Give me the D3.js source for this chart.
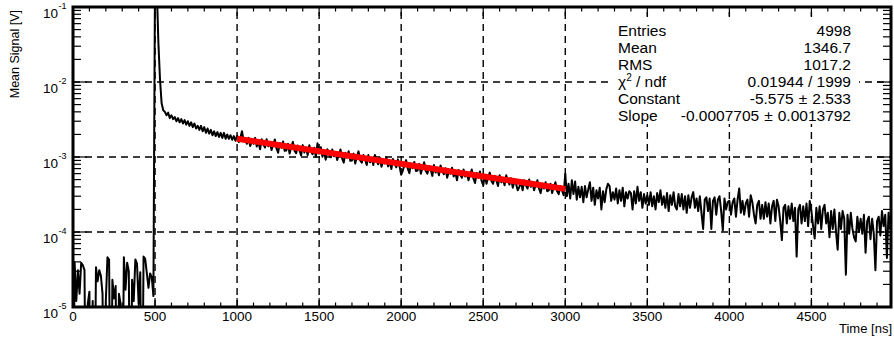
<!DOCTYPE html>
<html><head><meta charset="utf-8">
<script src="https://cdn.jsdelivr.net/npm/d3@7"></script>
<style>
html,body{margin:0;padding:0;background:#fff;}
svg{display:block;font-family:"Liberation Sans",Arial,Helvetica,sans-serif;}
</style>
</head><body>
<svg id="chart" width="894" height="340"></svg>
<script>
// ---------------- data ----------------
const timeStep = 10; // ns between points
const signal0to1000 = [
0,3.9e-5,1.2e-5,3.1e-5,1.5e-5,3.9e-5,3.6e-5,3.1e-5,0,1.1e-5,
1.6e-5,0,1.2e-5,0,3.4e-5,2.2e-5,3.1e-5,2.6e-5,1.5e-5,0,
1.2e-5,4.6e-5,4.3e-5,0,2.3e-5,1.3e-5,1.9e-5,0,1.5e-5,1.1e-5,
0,4.6e-5,1.7e-5,3.9e-5,3.0e-5,0,2.3e-5,1.2e-5,4.3e-5,3.8e-5,
1.1e-5,2.9e-5,0,4.7e-5,4.4e-5,2.8e-5,1.8e-5,2.8e-5,2.5e-5,1.4e-5,
0.3,0.2,0.035,0.011,5.2e-3,4.2e-3,4.0e-3,3.6e-3,3.9e-3,3.3e-3,
3.6e-3,3.2e-3,3.4e-3,3.0e-3,3.3e-3,2.9e-3,3.2e-3,2.8e-3,3.1e-3,2.7e-3,
3.0e-3,2.6e-3,2.9e-3,2.5e-3,2.8e-3,2.4e-3,2.6e-3,2.3e-3,2.6e-3,2.2e-3,
2.5e-3,2.1e-3,2.4e-3,2.05e-3,2.3e-3,1.95e-3,2.2e-3,1.9e-3,2.15e-3,1.85e-3,
2.1e-3,1.8e-3,2.1e-3,1.75e-3,2.0e-3,1.75e-3,1.95e-3,1.7e-3,1.9e-3,1.65e-3
];
const signal1000to2000 = [
1.92e-3,1.58e-3,1.80e-3,2.20e-3,1.62e-3,1.66e-3,1.50e-3,1.80e-3,1.40e-3,1.62e-3,
1.50e-3,1.80e-3,1.38e-3,1.62e-3,1.27e-3,1.72e-3,1.48e-3,1.34e-3,1.72e-3,1.39e-3,
1.58e-3,1.24e-3,1.47e-3,1.71e-3,1.30e-3,1.14e-3,1.54e-3,1.33e-3,1.61e-3,1.21e-3,
1.22e-3,1.50e-3,1.11e-3,1.36e-3,1.59e-3,1.21e-3,1.12e-3,1.42e-3,1.24e-3,1.05e-3,
1.44e-3,1.15e-3,1.32e-3,1.06e-3,1.43e-3,1.20e-3,1.09e-3,1.33e-3,1.00e-3,1.52e-3,
1.11e-3,1.35e-3,1.01e-3,1.19e-3,9.2e-4,1.27e-3,1.09e-3,9.9e-4,1.26e-3,1.02e-3,
1.16e-3,9.1e-4,1.08e-3,1.26e-3,9.6e-4,8.4e-4,1.14e-3,9.8e-4,1.19e-3,8.9e-4,
9.0e-4,1.11e-3,8.2e-4,1.01e-3,1.19e-3,9.0e-4,8.4e-4,1.06e-3,9.3e-4,7.8e-4,
1.06e-3,8.5e-4,9.8e-4,7.8e-4,1.06e-3,8.9e-4,8.0e-4,9.8e-4,7.4e-4,8.8e-4,
8.2e-4,9.9e-4,7.5e-4,8.9e-4,6.9e-4,9.4e-4,8.1e-4,7.3e-4,9.3e-4,7.5e-4
];
const signal2000to3000 = [
5.8e-4,6.6e-4,7.9e-4,9.1e-4,7.0e-4,6.1e-4,8.2e-4,7.1e-4,8.6e-4,6.5e-4,
6.6e-4,8.1e-4,6.0e-4,7.3e-4,8.5e-4,6.5e-4,6.0e-4,7.6e-4,6.7e-4,5.6e-4,
7.8e-4,6.2e-4,7.2e-4,5.7e-4,7.7e-4,6.5e-4,5.9e-4,7.1e-4,5.3e-4,6.4e-4,
6.0e-4,7.2e-4,5.5e-4,6.3e-4,4.9e-4,6.7e-4,5.8e-4,5.3e-4,6.8e-4,5.5e-4,
6.2e-4,4.9e-4,5.8e-4,6.8e-4,5.2e-4,4.5e-4,6.1e-4,5.3e-4,6.4e-4,4.8e-4,
4.2e-4,5.8e-4,4.4e-4,5.4e-4,6.2e-4,4.8e-4,4.4e-4,5.6e-4,4.9e-4,4.1e-4,
5.7e-4,4.6e-4,5.2e-4,4.2e-4,5.7e-4,4.8e-4,4.3e-4,5.2e-4,3.9e-4,4.7e-4,
4.4e-4,3.6e-4,4.0e-4,4.7e-4,3.6e-4,4.9e-4,4.2e-4,3.8e-4,5.0e-4,4.0e-4,
4.6e-4,3.6e-4,4.3e-4,4.9e-4,3.8e-4,3.3e-4,4.4e-4,3.8e-4,4.6e-4,3.5e-4,
3.6e-4,4.4e-4,3.3e-4,4.0e-4,4.6e-4,3.5e-4,3.2e-4,4.1e-4,3.6e-4,3.1e-4
];
const signal3000to5000 = [
6.0e-4,3.0e-4,4.4e-4,2.8e-4,4.9e-4,3.2e-4,4.7e-4,2.7e-4,4.0e-4,2.9e-4,
4.0e-4,2.5e-4,4.1e-4,2.9e-4,3.7e-4,4.6e-4,2.6e-4,3.9e-4,2.3e-4,3.6e-4,
2.8e-4,3.9e-4,2.0e-4,3.5e-4,2.5e-4,3.7e-4,4.4e-4,4.1e-4,2.6e-4,3.4e-4,
2.7e-4,3.8e-4,2.4e-4,3.6e-4,2.6e-4,3.9e-4,2.2e-4,3.4e-4,2.8e-4,3.5e-4,
3.3e-4,2.0e-4,3.5e-4,2.4e-4,4.0e-4,2.6e-4,3.4e-4,2.1e-4,3.2e-4,2.4e-4,
3.1e-4,2.3e-4,3.4e-4,2.2e-4,3.0e-4,2.0e-4,3.3e-4,2.5e-4,3.6e-4,2.3e-4,
3.0e-4,2.1e-4,3.3e-4,1.9e-4,3.1e-4,2.3e-4,3.4e-4,2.2e-4,2.0e-4,3.2e-4,
2.2e-4,3.2e-4,2.0e-4,3.0e-4,1.8e-4,3.1e-4,2.1e-4,2.9e-4,3.4e-4,2.1e-4,
2.8e-4,1.9e-4,3.0e-4,1.8e-4,1.1e-4,2.7e-4,2.9e-4,1.9e-4,2.8e-4,1.1e-4,
2.6e-4,2.9e-4,1.7e-4,2.7e-4,3.0e-4,1.9e-4,1.05e-4,2.8e-4,2.0e-4,2.5e-4,
2.6e-4,1.7e-4,2.5e-4,2.8e-4,1.6e-4,2.7e-4,3.8e-4,1.8e-4,2.6e-4,1.7e-4,
2.4e-4,2.7e-4,1.6e-4,3.1e-4,2.5e-4,1.7e-4,1.3e-4,2.3e-4,2.6e-4,1.5e-4,
2.3e-4,1.5e-4,2.5e-4,1.6e-4,2.4e-4,1.3e-4,2.2e-4,2.6e-4,1.4e-4,2.7e-4,
2.2e-4,1.4e-4,7.8e-5,2.1e-4,2.3e-4,1.3e-4,2.2e-4,1.5e-4,2.4e-4,1.4e-4,
2.1e-4,4.7e-5,2.0e-4,2.3e-4,1.3e-4,2.2e-4,1.4e-4,2.4e-4,1.2e-4,2.6e-4,
1.9e-4,1.2e-4,8.2e-5,2.1e-4,1.3e-4,2.2e-4,1.1e-4,2.0e-4,2.3e-4,1.3e-4,
1.8e-4,8.5e-5,1.9e-4,1.1e-4,2.0e-4,1.0e-4,5.8e-5,1.8e-4,1.1e-4,1.9e-4,
1.5e-4,2.7e-5,1.7e-4,9.5e-5,1.8e-4,1.1e-4,8.5e-5,7.5e-5,1.6e-4,1.0e-4,
1.5e-4,9.5e-5,1.7e-4,5.3e-5,1.4e-4,1.6e-4,8.0e-5,1.5e-4,9.5e-5,3.1e-5,
1.4e-4,1.6e-4,9.0e-5,1.9e-4,1.2e-4,1.7e-4,4.5e-5,1.8e-4,1.1e-4,1.5e-4
];
const xTickValues = [0, 500, 1000, 1500, 2000, 2500, 3000, 3500, 4000, 4500];
const xTickLabels = ["0", "500", "1000", "1500", "2000", "2500", "3000", "3500", "4000", "4500"];
const yTickExponents = [-5, -4, -3, -2, -1];
const statLabels = ["Entries", "Mean", "RMS", "χ2 / ndf", "Constant", "Slope"];
const statValues = ["4998", "1346.7", "1017.2", "0.01944 / 1999", "-5.575 ± 2.533", "-0.0007705 ± 0.0013792"];
const fitConstant = -5.575;
const fitSlope = -0.0007705;
const fitRange = [1000, 3000];
const xTitle = "Time [ns]";
const yTitle = "Mean Signal [V]";

// ---------------- layout ----------------
const W = 894, H = 340;
const L = 73, R = 891, T = 7, B = 307;
const svg = d3.select("#chart");
svg.append("rect").attr("width", W).attr("height", H).attr("fill", "#fff");

const x = d3.scaleLinear().domain([0, 4985]).range([L, R]);
const y = d3.scaleLog().domain([1e-5, 1e-1]).range([B, T]);

const series = [].concat(signal0to1000, signal1000to2000, signal2000to3000, signal3000to5000)
  .map((v, i) => ({t: i * timeStep, v: v}));

svg.append("clipPath").attr("id", "frameClip")
  .append("rect").attr("x", L).attr("y", T).attr("width", R - L).attr("height", B - T);

// grid
const grid = svg.append("g").attr("stroke", "#000").attr("stroke-width", 1.4)
  .attr("stroke-dasharray", "7,5").attr("fill", "none");
xTickValues.filter(v => v > 0).forEach(v => {
  grid.append("line").attr("x1", x(v)).attr("x2", x(v)).attr("y1", B).attr("y2", T);
});
yTickExponents.filter(e => e > -5 && e < -1).forEach(e => {
  grid.append("line").attr("x1", L).attr("x2", R).attr("y1", y(Math.pow(10, e))).attr("y2", y(Math.pow(10, e)));
});

// histogram line
const line = d3.line().x(d => x(d.t)).y(d => y(Math.max(d.v, 1e-7)));
svg.append("path").datum(series).attr("clip-path", "url(#frameClip)")
  .attr("d", line).attr("fill", "none").attr("stroke", "#000")
  .attr("stroke-width", 2).attr("stroke-linejoin", "round");

// fit line
const fitPts = fitRange.map(t => ({t: t, v: Math.exp(fitConstant + fitSlope * t)}));
svg.append("path").datum(fitPts).attr("d", line).attr("fill", "none")
  .attr("stroke", "#ff0000").attr("stroke-width", 6);

// stats box (white, borderless)
svg.append("rect").attr("x", 609).attr("y", 17).attr("width", 250).attr("height", 107).attr("fill", "#fff");
const stats = svg.append("g").attr("font-size", 15.5).attr("fill", "#000");
statLabels.forEach((lab, i) => {
  const yy = 36 + i * 17;
  const t = stats.append("text").attr("x", 618).attr("y", yy);
  if (lab.startsWith("χ2")) {
    t.append("tspan").text("χ");
    t.append("tspan").attr("font-size", 10).attr("dy", -6).text("2");
    t.append("tspan").attr("dy", 6).text(" / ndf");
  } else {
    t.text(lab);
  }
  const v = stats.append("text").attr("x", 851).attr("y", yy).attr("text-anchor", "end");
  const parts = statValues[i].split(" ± ");
  if (parts.length === 2) {
    v.append("tspan").text(parts[0]);
    v.append("tspan").attr("dx", 5).text("±");
    v.append("tspan").attr("dx", 5).text(parts[1]);
  } else {
    v.text(statValues[i]);
  }
});

// axes ticks
const axes = svg.append("g").attr("stroke", "#000").attr("stroke-width", 1.2);
const minorX = d3.range(0, 4986, 100).filter(v => v % 500 !== 0);
minorX.forEach(v => {
  axes.append("line").attr("x1", x(v)).attr("x2", x(v)).attr("y1", B).attr("y2", B - 4.5);
  axes.append("line").attr("x1", x(v)).attr("x2", x(v)).attr("y1", T).attr("y2", T + 4.5);
});
xTickValues.forEach(v => {
  axes.append("line").attr("x1", x(v)).attr("x2", x(v)).attr("y1", B).attr("y2", B - 9);
  axes.append("line").attr("x1", x(v)).attr("x2", x(v)).attr("y1", T).attr("y2", T + 9);
});
yTickExponents.forEach(e => {
  if (e < -1) {
    for (let m = 2; m <= 9; m++) {
      const yy = y(m * Math.pow(10, e));
      axes.append("line").attr("x1", L).attr("x2", L + 8).attr("y1", yy).attr("y2", yy);
      axes.append("line").attr("x1", R).attr("x2", R - 8).attr("y1", yy).attr("y2", yy);
    }
  }
  const yy = y(Math.pow(10, e));
  axes.append("line").attr("x1", L).attr("x2", L + 14).attr("y1", yy).attr("y2", yy);
  axes.append("line").attr("x1", R).attr("x2", R - 14).attr("y1", yy).attr("y2", yy);
});

// frame
svg.append("rect").attr("x", L).attr("y", T).attr("width", R - L).attr("height", B - T)
  .attr("fill", "none").attr("stroke", "#000").attr("stroke-width", 3);

// x labels
const xl = svg.append("g").attr("font-size", 13.5).attr("text-anchor", "middle");
xTickValues.forEach((v, i) => {
  xl.append("text").attr("x", x(v)).attr("y", 320.5).text(xTickLabels[i]);
});
// y labels
const yl = svg.append("g");
yTickExponents.forEach(e => {
  const yy = y(Math.pow(10, e));
  yl.append("text").attr("x", 58).attr("y", yy + 10.5).attr("text-anchor", "end")
    .attr("font-size", 13.5).text("10");
  yl.append("text").attr("x", 58.5).attr("y", yy + 2).attr("text-anchor", "start")
    .attr("font-size", 9).text(String(e));
});
// titles
svg.append("text").attr("x", 892).attr("y", 333).attr("text-anchor", "end")
  .attr("font-size", 13).text(xTitle);
svg.append("text").attr("transform", "translate(19,10) rotate(-90)").attr("text-anchor", "end")
  .attr("font-size", 12.5).text(yTitle);
</script>
</body></html>
